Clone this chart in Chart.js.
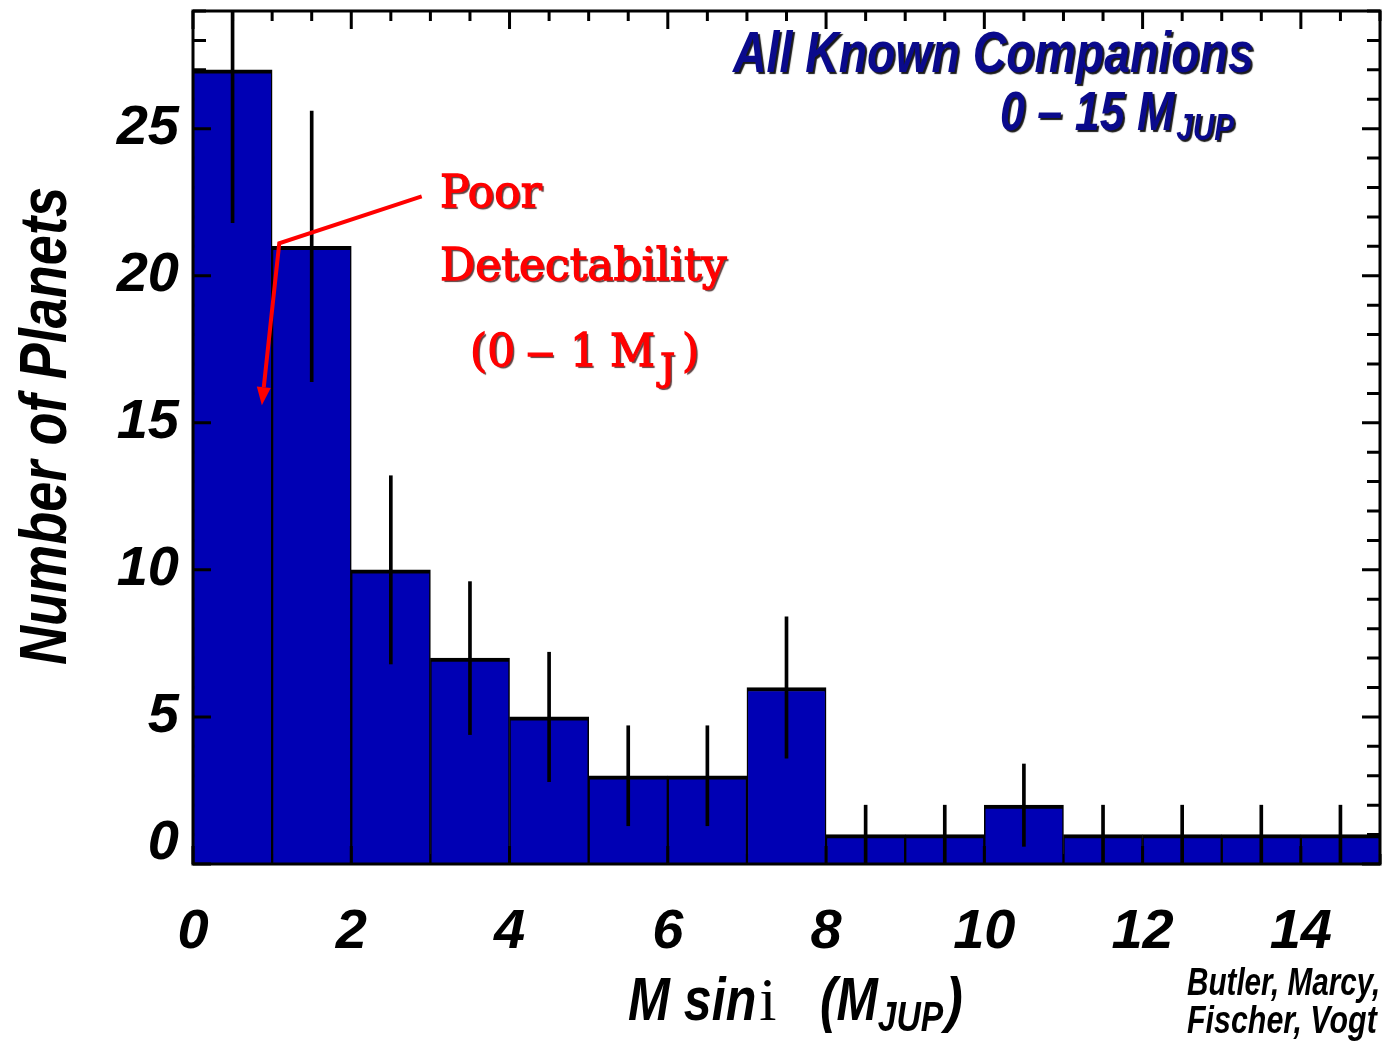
<!DOCTYPE html>
<html>
<head>
<meta charset="utf-8">
<script src="https://cdn.jsdelivr.net/npm/chart.js@4/dist/chart.umd.min.js"></script>
<style>
  html, body { margin: 0; padding: 0; background: #fff; }
  canvas { display: block; }
</style>
</head>
<body>
<canvas id="c" width="1388" height="1041" style="width:1388px;height:1041px"></canvas>
<script>
// Mass bins in M sin i (Jupiter masses): lower edge of each 1 M_JUP bin
const binLow = [0, 1, 2, 3, 4, 5, 6, 7, 8, 9, 10, 11, 12, 13, 14];
// Number of planets in each bin
const planetCounts = [27, 21, 10, 7, 5, 3, 3, 6, 1, 1, 2, 1, 1, 1, 1];
// Error bar ends for each bin
const errLow  = [21.8, 16.4, 6.8, 4.4, 2.8, 1.3, 1.3, 3.6, 0, 0, 0.6, 0, 0, 0, 0];
const errHigh = [32.2, 25.6, 13.2, 9.6, 7.2, 4.7, 4.7, 8.4, 2, 2, 3.4, 2, 2, 2, 2];
// Labelled ticks
const xTicks = [0, 2, 4, 6, 8, 10, 12, 14];
const yTicks = [0, 5, 10, 15, 20, 25];
// Annotation arrow path (data units): tail, bend, tip
const arrowPath = [[2.89, 22.7], [1.09, 21.1], [0.87, 15.6]];

const SANS = '"Liberation Sans", Arial, Helvetica, sans-serif';
const SERIF = '"DejaVu Serif", "Liberation Serif", serif';
const ROMAN = '"Liberation Serif", "Times New Roman", serif';
const BAR_BLUE = '#0000B4';
const NAVY = '#0A0A8C';

// Draw horizontally condensed text; returns the drawn width
function squeezed(ctx, text, x, y, font, sx, align) {
  ctx.save();
  ctx.font = font;
  ctx.textAlign = 'left';
  const w = ctx.measureText(text).width * sx;
  const x0 = align === 'right' ? x - w : (align === 'center' ? x - w / 2 : x);
  ctx.translate(x0, y);
  ctx.scale(sx, 1);
  ctx.fillText(text, 0, 0);
  ctx.restore();
  return w;
}

function drawTickMarks(chart, major) {
  const { ctx, chartArea: a, scales: { x, y } } = chart;
  ctx.save();
  ctx.strokeStyle = '#000';
  ctx.lineWidth = 3;
  ctx.beginPath();
  for (let i = 0; i <= 30; i++) {
    const v = i / 2;
    const isMajor = i % 4 === 0;
    if (isMajor !== major) continue;
    const px = x.getPixelForValue(v);
    const len = isMajor ? 18 : 10;
    ctx.moveTo(px, a.top); ctx.lineTo(px, a.top + len);
    ctx.moveTo(px, a.bottom); ctx.lineTo(px, a.bottom - len);
  }
  for (let v = 0; v <= 29; v++) {
    const isMajor = v % 5 === 0;
    if (isMajor !== major) continue;
    const py = y.getPixelForValue(v);
    const len = isMajor ? 18 : 13;
    ctx.moveTo(a.left, py); ctx.lineTo(a.left + len, py);
    ctx.moveTo(a.right, py); ctx.lineTo(a.right - len, py);
  }
  ctx.stroke();
  ctx.restore();
}

const framePlugin = {
  id: 'frameTicks',
  beforeDatasetsDraw(chart) { drawTickMarks(chart, false); },
  afterDatasetsDraw(chart) {
    drawTickMarks(chart, true);
    const { ctx, chartArea: a } = chart;
    ctx.save();
    ctx.strokeStyle = '#000';
    ctx.lineWidth = 3;
    ctx.strokeRect(a.left, a.top, a.right - a.left, a.bottom - a.top);
    ctx.restore();
  }
};

const textPlugin = {
  id: 'labels',
  afterDraw(chart) {
    const { ctx, scales: { x, y } } = chart;
    ctx.save();
    ctx.textBaseline = 'alphabetic';

    // Y axis title
    ctx.save();
    ctx.fillStyle = '#000';
    ctx.translate(66, 426);
    ctx.rotate(-Math.PI / 2);
    squeezed(ctx, 'Number of Planets', 0, 0, `bold italic 66px ${SANS}`, 0.82, 'center');
    ctx.restore();

    // X axis title: M sin i (M_JUP)
    ctx.fillStyle = '#000';
    let cx = 628;
    cx += squeezed(ctx, 'M sin', cx, 1020, `bold italic 62px ${SANS}`, 0.81, 'left');
    ctx.font = `62px ${ROMAN}`;
    ctx.fillText('i', cx + 3, 1020);
    cx = 820;
    cx += squeezed(ctx, '(M', cx, 1020, `bold italic 62px ${SANS}`, 0.8, 'left');
    cx += squeezed(ctx, 'JUP', cx, 1031, `bold italic 42px ${SANS}`, 0.8, 'left');
    squeezed(ctx, ')', cx + 2, 1020, `bold italic 62px ${SANS}`, 0.85, 'left');

    // Credits
    squeezed(ctx, 'Butler, Marcy,', 1187, 995, `bold italic 38px ${SANS}`, 0.78, 'left');
    squeezed(ctx, 'Fischer, Vogt', 1187, 1033, `bold italic 38px ${SANS}`, 0.8, 'left');

    // Title block
    ctx.save();
    ctx.fillStyle = NAVY;
    ctx.shadowColor = 'rgba(0,0,0,0.9)';
    ctx.shadowOffsetX = 2;
    ctx.shadowOffsetY = 2;
    ctx.shadowBlur = 1;
    squeezed(ctx, 'All Known Companions', 733, 72, `bold italic 58px ${SANS}`, 0.8, 'left');
    let tx = 1000;
    tx += squeezed(ctx, '0 \u2013 15 M', tx, 130, `bold italic 56px ${SANS}`, 0.8, 'left');
    squeezed(ctx, 'JUP', tx + 2, 140, `bold italic 37px ${SANS}`, 0.8, 'left');
    ctx.restore();

    // Annotation arrow
    const pts = arrowPath.map(([vx, vy]) => [x.getPixelForValue(vx), y.getPixelForValue(vy)]);
    ctx.save();
    ctx.strokeStyle = '#FF0000';
    ctx.fillStyle = '#FF0000';
    ctx.lineWidth = 4;
    ctx.lineJoin = 'miter';
    const [tip, prev] = [pts[2], pts[1]];
    const dx = tip[0] - prev[0], dy = tip[1] - prev[1];
    const d = Math.hypot(dx, dy), ux = dx / d, uy = dy / d;
    const headLen = 18, headHalf = 7;
    ctx.beginPath();
    ctx.moveTo(pts[0][0], pts[0][1]);
    ctx.lineTo(pts[1][0], pts[1][1]);
    ctx.lineTo(tip[0] - ux * headLen, tip[1] - uy * headLen);
    ctx.stroke();
    ctx.beginPath();
    ctx.moveTo(tip[0], tip[1]);
    ctx.lineTo(tip[0] - ux * headLen - uy * headHalf, tip[1] - uy * headLen + ux * headHalf);
    ctx.lineTo(tip[0] - ux * headLen + uy * headHalf, tip[1] - uy * headLen - ux * headHalf);
    ctx.closePath();
    ctx.fill();
    ctx.restore();

    // Annotation text (slightly thickened serif)
    ctx.save();
    ctx.fillStyle = '#FF0000';
    ctx.strokeStyle = '#FF0000';
    ctx.lineWidth = 1.3;
    ctx.shadowColor = 'rgba(40,0,0,0.75)';
    ctx.shadowOffsetX = 2;
    ctx.shadowOffsetY = 2;
    ctx.shadowBlur = 1;
    const red = (t, px, py, size) => {
      ctx.font = `${size}px ${SERIF}`;
      ctx.fillText(t, px, py);
      ctx.shadowColor = 'rgba(0,0,0,0)';
      ctx.strokeText(t, px, py);
      ctx.shadowColor = 'rgba(40,0,0,0.75)';
    };
    red('Poor', 440, 207, 44);
    red('Detectability', 440, 280, 44);
    red('(0', 470, 366, 44);
    ctx.save();
    ctx.translate(526, 0);
    ctx.scale(1.3, 1);
    red('\u2013', 0, 366, 44);
    ctx.restore();
    red('1', 570, 366, 44);
    red('M', 610, 366, 44);
    red('J', 660, 380, 38);
    red(')', 682, 366, 44);
    ctx.restore();

    ctx.restore();
  }
};

Chart.defaults.color = '#000';
Chart.defaults.font.family = SANS;

function noEdgePadding(s) {
  s.paddingTop = 0; s.paddingBottom = 0; s.paddingLeft = 0; s.paddingRight = 0;
}

new Chart(document.getElementById('c'), {
  type: 'bar',
  data: {
    datasets: [
      {
        label: 'Error',
        data: binLow.map((b, i) => ({ x: b + 0.5, y: [errLow[i], errHigh[i]] })),
        backgroundColor: '#000',
        borderWidth: 0,
        barThickness: 3,
        grouped: false,
        order: 1
      },
      {
        label: 'Number of Planets',
        data: binLow.map((b, i) => ({ x: b + 0.5, y: planetCounts[i] })),
        backgroundColor: BAR_BLUE,
        borderColor: '#000',
        borderWidth: { top: 4, left: 1.5, right: 1.5, bottom: 0 },
        barPercentage: 1,
        categoryPercentage: 1,
        grouped: false,
        order: 2
      }
    ]
  },
  options: {
    responsive: false,
    animation: false,
    devicePixelRatio: 1,
    layout: { padding: { left: 0, top: 11, right: 8, bottom: 0 } },
    plugins: { legend: { display: false }, tooltip: { enabled: false }, title: { display: false } },
    scales: {
      x: {
        type: 'linear',
        min: 0,
        max: 15,
        offset: false,
        grid: { display: false, offset: false },
        border: { display: false },
        afterBuildTicks: s => { s.ticks = xTicks.map(v => ({ value: v })); },
        afterFit: s => { s.height = 177; noEdgePadding(s); },
        ticks: {
          padding: 27,
          maxRotation: 0,
          autoSkip: false,
          font: { size: 56, weight: 'bold', style: 'italic', family: SANS },
          callback: v => String(v)
        }
      },
      y: {
        min: 0,
        max: 29,
        grid: { display: false },
        border: { display: false },
        afterBuildTicks: s => { s.ticks = yTicks.map(v => ({ value: v })); },
        afterFit: s => { s.width = 193; noEdgePadding(s); },
        ticks: {
          padding: 6,
          autoSkip: false,
          font: { size: 56, weight: 'bold', style: 'italic', family: SANS, lineHeight: 0.74 },
          callback: v => (v === 0 ? ['0', ''] : String(v))
        }
      }
    }
  },
  plugins: [framePlugin, textPlugin]
});
</script>
</body>
</html>
